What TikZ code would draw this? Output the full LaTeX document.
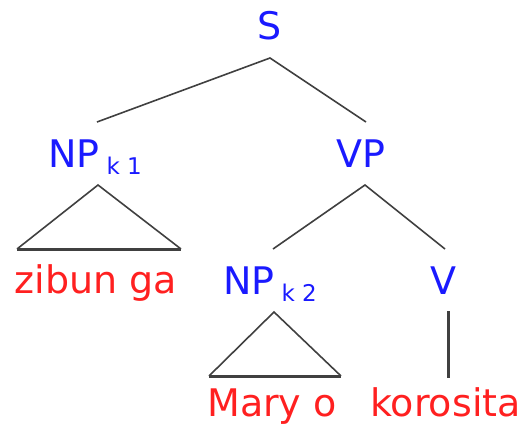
\documentclass[tikz,border=0pt]{standalone}
\usepackage{fontspec}
\setmainfont{DejaVu Sans}
\definecolor{catblue}{RGB}{26,26,255}
\definecolor{wordred}{RGB}{255,32,32}
\definecolor{edgegray}{RGB}{64,64,64}
\newcommand{\subk}[1]{\hspace{7pt}\raisebox{-7pt}{\fontsize{23}{23}\selectfont #1}}
\tikzset{
  cat/.style={inner sep=0pt, text=catblue, font=\fontsize{38}{46}\selectfont},
  word/.style={inner sep=0pt, text=wordred, font=\fontsize{38}{46}\selectfont},
  branch/.style={draw=edgegray, line width=1.6pt},
  basebar/.style={draw=edgegray, line width=3pt},
}
\begin{document}
\begin{tikzpicture}[x=1pt,y=-1pt]
\useasboundingbox (0,0) rectangle (528,426);
% category labels
\node[cat, anchor=base] (S) at (270,39) {S};
\node[cat, anchor=base west] (NP1) at (48,167) {NP\subk{k 1}};
\node[cat, anchor=base] (VP) at (361,167) {VP};
\node[cat, anchor=base west] (NP2) at (223,294) {NP\subk{k 2}};
\node[cat, anchor=base] (V) at (443,294) {V};
% words
\node[word, anchor=base] (w1) at (96,293) {zibun ga};
\node[word, anchor=base] (w2) at (272,416.5) {Mary o};
\node[word, anchor=base] (w3) at (445.5,416.5) {korosita};
% connector points
\coordinate (S-bot) at (270,58);
\coordinate (NP1-top) at (97,122);
\coordinate (VP-top) at (366,122);
\coordinate (NP1-bot) at (98,185);
\coordinate (T1-l) at (17,249);
\coordinate (T1-r) at (181,249);
\coordinate (VP-bot) at (365,185);
\coordinate (NP2-top) at (273,249);
\coordinate (V-top) at (445,249);
\coordinate (NP2-bot) at (274,312);
\coordinate (T2-l) at (209,376);
\coordinate (T2-r) at (341,376);
\coordinate (V-bot) at (448,311);
\coordinate (w3-top) at (448,378);
% branches
\draw[branch] (NP1-top) -- (S-bot) -- (VP-top);
\draw[branch] (NP2-top) -- (VP-bot) -- (V-top);
\draw[branch] (T1-l) -- (NP1-bot) -- (T1-r);
\draw[basebar] (T1-l) -- (T1-r);
\draw[branch] (T2-l) -- (NP2-bot) -- (T2-r);
\draw[basebar] (T2-l) -- (T2-r);
\draw[basebar] (V-bot) -- (w3-top);
\end{tikzpicture}
\end{document}
